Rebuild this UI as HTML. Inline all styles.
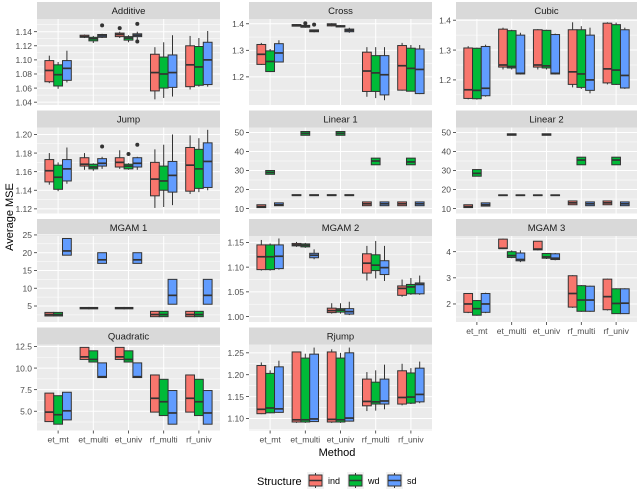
<!DOCTYPE html>
<html><head><meta charset="utf-8"><style>
html,body{margin:0;padding:0;background:#fff;}
svg{display:block;font-family:"Liberation Sans",sans-serif;}
</style></head><body>
<svg id="chart" width="640" height="490" viewBox="0 0 640 490"></svg>
<script>
const methods = ["et_mt","et_multi","et_univ","rf_multi","rf_univ"];
const structures = ["ind","wd","sd"];
const colors = ["#F8766D","#00BA38","#619CFF"];
const panelTitles = ["Additive","Cross","Cubic","Jump","Linear 1","Linear 2","MGAM 1","MGAM 2","MGAM 3","Quadratic","Rjump"];
// each row: [lo, q1, median, q3, hi], order: method x structure(ind, wd, sd)
const additiveStats = [
[1.067,1.069,1.085,1.099,1.106],[1.059,1.063,1.079,1.093,1.097],[1.068,1.071,1.088,1.099,1.113],
[1.131,1.132,1.133,1.135,1.136],[1.124,1.127,1.130,1.132,1.134],[1.131,1.132,1.134,1.136,1.137],
[1.131,1.133,1.136,1.138,1.140],[1.125,1.128,1.131,1.133,1.135],[1.128,1.133,1.135,1.137,1.140],
[1.044,1.056,1.082,1.108,1.118],[1.046,1.060,1.080,1.104,1.125],[1.048,1.061,1.082,1.107,1.135],
[1.058,1.062,1.093,1.120,1.134],[1.062,1.064,1.090,1.119,1.131],[1.062,1.065,1.100,1.125,1.141]];
const additiveOutliers = [[1,2,1.149],[2,0,1.145],[2,2,1.151],[2,2,1.126]];
const crossStats = [
[1.245,1.247,1.285,1.322,1.328],[1.218,1.220,1.258,1.298,1.305],[1.255,1.256,1.290,1.325,1.338],
[1.390,1.391,1.395,1.397,1.398],[1.385,1.387,1.391,1.394,1.395],[1.368,1.370,1.374,1.377,1.378],
[1.390,1.392,1.397,1.400,1.402],[1.386,1.388,1.391,1.393,1.395],[1.366,1.370,1.375,1.380,1.385],
[1.125,1.145,1.222,1.293,1.312],[1.120,1.145,1.215,1.280,1.312],[1.112,1.132,1.208,1.280,1.312],
[1.148,1.150,1.242,1.318,1.328],[1.145,1.146,1.232,1.308,1.320],[1.135,1.137,1.228,1.305,1.320]];
const crossOutliers = [[1,1,1.402],[1,2,1.397]];
const cubicStats = [
[1.135,1.138,1.167,1.307,1.313],[1.134,1.137,1.165,1.306,1.308],[1.144,1.147,1.172,1.312,1.318],
[1.235,1.243,1.250,1.370,1.375],[1.235,1.240,1.245,1.365,1.368],[1.218,1.220,1.222,1.350,1.358],
[1.235,1.243,1.250,1.368,1.370],[1.235,1.240,1.247,1.366,1.368],[1.218,1.220,1.222,1.352,1.355],
[1.175,1.185,1.227,1.368,1.393],[1.170,1.175,1.220,1.368,1.380],[1.155,1.165,1.200,1.350,1.375],
[1.185,1.190,1.237,1.390,1.393],[1.183,1.185,1.233,1.385,1.392],[1.170,1.173,1.215,1.368,1.375]];
const jumpStats = [
[1.146,1.149,1.161,1.173,1.180],[1.139,1.141,1.154,1.167,1.170],[1.147,1.150,1.163,1.173,1.186],
[1.162,1.166,1.168,1.175,1.180],[1.161,1.163,1.165,1.168,1.169],[1.163,1.166,1.169,1.174,1.176],
[1.163,1.165,1.170,1.175,1.183],[1.162,1.163,1.166,1.168,1.169],[1.162,1.165,1.169,1.175,1.176],
[1.121,1.134,1.152,1.170,1.184],[1.122,1.140,1.150,1.166,1.189],[1.124,1.138,1.156,1.171,1.200],
[1.136,1.139,1.167,1.186,1.199],[1.138,1.142,1.163,1.184,1.196],[1.140,1.143,1.171,1.191,1.205]];
const jumpOutliers = [[1,2,1.187],[2,1,1.179],[2,2,1.189]];
const linear1Stats = [
[10.5,10.5,11,12,12],[28,28,29,30,30],[11.5,11.5,12,13,13],
[16.8,16.8,17,17.3,17.3],[48.5,48.5,49.5,50.5,50.5],[16.8,16.8,17,17.3,17.3],
[16.8,16.8,17,17.3,17.3],[48.5,48.5,49.5,50.5,50.5],[16.8,16.8,17,17.3,17.3],
[11.5,11.5,12.5,13.5,13.5],[33,33,35,36.5,36.5],[11.5,11.5,12.5,13.5,13.5],
[11.5,11.5,12.5,13.5,13.5],[33,33,34.5,36.5,36.5],[11.5,11.5,12.5,13.5,13.5]];
const linear2Stats = [
[10.5,10.5,11,12,12],[27,27,28.5,30.5,30.5],[11.3,11.3,12,13,13],
[16.8,16.8,17,17.2,17.2],[48.5,48.5,49,49.3,49.3],[16.8,16.8,17,17.2,17.2],
[16.8,16.8,17,17.2,17.2],[48.5,48.5,49,49.3,49.3],[16.8,16.8,17,17.2,17.2],
[12,12,13,14,14],[33,33,35.5,37,37],[11.5,11.5,12.5,13.5,13.5],
[12,12,13,14,14],[33,33,35.5,37,37],[11.5,11.5,12.5,13.5,13.5]];
const mgam1Stats = [
[2.2,2.2,2.6,3.2,3.2],[2.2,2.2,2.6,3.2,3.2],[19.3,19.3,20.5,24,24],
[4.2,4.2,4.4,4.6,4.6],[4.2,4.2,4.4,4.6,4.6],[17,17,18,20,20],
[4.2,4.2,4.4,4.6,4.6],[4.2,4.2,4.4,4.6,4.6],[17,17,18,20,20],
[2,2,2.6,3.5,3.5],[2,2,2.6,3.5,3.5],[5.5,5.5,8,12.5,12.5],
[2,2,2.6,3.5,3.5],[2,2,2.6,3.5,3.5],[5.5,5.5,8,12.5,12.5]];
const mgam2Stats = [
[1.093,1.095,1.121,1.145,1.155],[1.093,1.095,1.121,1.145,1.148],[1.095,1.097,1.122,1.145,1.158],
[1.141,1.143,1.145,1.148,1.151],[1.139,1.141,1.144,1.147,1.149],[1.116,1.119,1.124,1.128,1.136],
[1.006,1.008,1.012,1.017,1.027],[1.006,1.009,1.013,1.016,1.027],[1.003,1.005,1.010,1.016,1.030],
[1.073,1.088,1.108,1.127,1.143],[1.077,1.093,1.104,1.125,1.153],[1.072,1.085,1.099,1.113,1.143],
[1.040,1.043,1.057,1.062,1.075],[1.044,1.046,1.060,1.065,1.078],[1.044,1.046,1.065,1.068,1.083]];
const mgam3Stats = [
[1.65,1.68,2.0,2.4,2.4],[1.55,1.57,1.82,2.13,2.15],[1.65,1.68,2.0,2.4,2.43],
[4.1,4.12,4.13,4.48,4.5],[3.75,3.78,3.85,4.0,4.05],[3.6,3.65,3.7,3.95,4.05],
[4.05,4.07,4.1,4.4,4.4],[3.72,3.75,3.8,3.93,3.95],[3.67,3.7,3.75,3.92,3.95],
[1.85,1.88,2.4,3.08,3.1],[1.7,1.72,2.15,2.7,2.72],[1.7,1.72,2.15,2.68,2.7],
[1.75,1.78,2.28,2.95,2.97],[1.62,1.63,2.02,2.58,2.6],[1.62,1.63,2.03,2.58,2.6]];
const quadraticStats = [
[3.8,3.8,4.9,7.1,7.1],[3.5,3.5,4.6,6.8,6.8],[4.0,4.0,5.05,7.2,7.2],
[11.0,11.0,11.3,12.4,12.4],[10.7,10.7,11.0,12.0,12.0],[8.9,8.9,9.0,10.6,10.6],
[11.0,11.0,11.3,12.4,12.4],[10.7,10.7,11.0,12.0,12.0],[8.9,8.9,9.0,10.6,10.6],
[4.9,4.9,6.5,9.2,9.2],[4.5,4.5,6.1,8.7,8.7],[3.5,3.5,4.8,7.4,7.4],
[4.9,4.9,6.5,9.2,9.2],[4.5,4.5,6.1,8.7,8.7],[3.5,3.5,4.8,7.4,7.4]];
const rjumpStats = [
[1.110,1.111,1.121,1.221,1.228],[1.112,1.113,1.124,1.203,1.210],[1.113,1.114,1.122,1.218,1.232],
[1.090,1.092,1.097,1.252,1.253],[1.090,1.092,1.097,1.238,1.248],[1.092,1.093,1.099,1.247,1.262],
[1.090,1.092,1.098,1.252,1.258],[1.090,1.092,1.097,1.238,1.250],[1.093,1.094,1.101,1.250,1.262],
[1.117,1.129,1.139,1.190,1.206],[1.118,1.133,1.138,1.183,1.210],[1.121,1.133,1.140,1.190,1.223],
[1.130,1.133,1.148,1.209,1.225],[1.133,1.135,1.149,1.204,1.215],[1.135,1.138,1.155,1.215,1.230]];
const additiveTicks = [1.04,1.06,1.08,1.10,1.12,1.14];
const crossTicks = [1.2,1.3,1.4];
const cubicTicks = [1.2,1.3,1.4];
const jumpTicks = [1.12,1.14,1.16,1.18,1.20];
const linearTicks = [10,20,30,40,50];
const mgam1Ticks = [5,10,15,20,25];
const mgam2Ticks = [1.00,1.05,1.10,1.15];
const mgam3Ticks = [2,3,4];
const quadraticTicks = [5.0,7.5,10.0,12.5];
const rjumpTicks = [1.10,1.15,1.20,1.25];

const NS="http://www.w3.org/2000/svg";
const svg=document.getElementById('chart');
function mk(tag,attrs,parent){const e=document.createElementNS(NS,tag);for(const k in attrs)e.setAttribute(k,attrs[k]);(parent||svg).appendChild(e);return e;}

const colX=[[37,220],[249,432],[456,637]];
const rowTop=[2,110.5,219,327.5];
const stripH=17, panelH=86;
const panels=[
 {stats:additiveStats,out:additiveOutliers,ticks:additiveTicks,dom:[1.036,1.158],dec:2},
 {stats:crossStats,out:crossOutliers,ticks:crossTicks,dom:[1.094,1.418],dec:1},
 {stats:cubicStats,out:[],ticks:cubicTicks,dom:[1.116,1.404],dec:1},
 {stats:jumpStats,out:jumpOutliers,ticks:jumpTicks,dom:[1.115,1.2075],dec:2},
 {stats:linear1Stats,out:[],ticks:linearTicks,dom:[7.4,52.6],dec:0},
 {stats:linear2Stats,out:[],ticks:linearTicks,dom:[7.4,52.6],dec:0},
 {stats:mgam1Stats,out:[],ticks:mgam1Ticks,dom:[0.5,24.7],dec:0},
 {stats:mgam2Stats,out:[],ticks:mgam2Ticks,dom:[0.989,1.163],dec:2},
 {stats:mgam3Stats,out:[],ticks:mgam3Ticks,dom:[1.31,4.6],dec:0},
 {stats:quadraticStats,out:[],ticks:quadraticTicks,dom:[2.77,12.73],dec:1},
 {stats:rjumpStats,out:[],ticks:rjumpTicks,dom:[1.0726,1.269],dec:2}
];
const bottomPanels=[9,10,8];

panels.forEach((p,i)=>{
 const c=i%3, r=Math.floor(i/3);
 const x0=colX[c][0], x1=colX[c][1];
 const sTop=rowTop[r], pTop=sTop+stripH, pBot=pTop+panelH;
 const g=mk('g',{});
 
 
 const strip=mk('rect',{x:x0,y:sTop,width:x1-x0,height:stripH,fill:'#D9D9D9'},g);
 
 
 const st=mk('text',{x:(x0+x1)/2,y:sTop+12,'text-anchor':'middle','font-size':'9.5',fill:'#1A1A1A'},g);
 st.textContent=panelTitles[i];
 
 
 mk('rect',{x:x0,y:pTop,width:x1-x0,height:panelH,fill:'#EBEBEB'},g);
 const ys=v=>pBot-(v-p.dom[0])/(p.dom[1]-p.dom[0])*panelH;
 const unit=(x1-x0)/5.2;
 const xs=k=>x0+(k+1-0.4)*unit;
 // minor grid
 for(let t=0;t<p.ticks.length-1;t++){const mv=(p.ticks[t]+p.ticks[t+1])/2;mk('line',{x1:x0,x2:x1,y1:ys(mv),y2:ys(mv),stroke:'#fff','stroke-width':0.5},g);}
 {const st0=p.ticks[1]-p.ticks[0];[p.ticks[0]-st0/2,p.ticks[p.ticks.length-1]+st0/2].forEach(mv=>{const y=ys(mv);if(y>pTop&&y<pBot)mk('line',{x1:x0,x2:x1,y1:y,y2:y,stroke:'#fff','stroke-width':0.5},g);});}
 p.ticks.forEach(t=>{
  const y=ys(t);
  mk('line',{x1:x0,x2:x1,y1:y,y2:y,stroke:'#fff','stroke-width':1},g);
  mk('line',{x1:x0-3,x2:x0,y1:y,y2:y,stroke:'#333','stroke-width':0.8},g);
  const tl=mk('text',{x:x0-5,y:y+3.2,'text-anchor':'end','font-size':'8.5',fill:'#4D4D4D'},g);
  tl.textContent=t.toFixed(p.dec);
  
  
 });
 methods.forEach((m,k)=>{mk('line',{x1:xs(k),x2:xs(k),y1:pTop,y2:pBot,stroke:'#fff','stroke-width':1},g);});
 const bw=unit*0.25;
 p.stats.forEach((s,j)=>{
  const k=Math.floor(j/3), si=j%3;
  const cx=xs(k)+(si-1)*bw;
  const bg=mk('g',{},g);
  
  
  mk('line',{x1:cx,x2:cx,y1:ys(s[4]),y2:ys(s[3]),stroke:'#333','stroke-width':1},bg);
  mk('line',{x1:cx,x2:cx,y1:ys(s[1]),y2:ys(s[0]),stroke:'#333','stroke-width':1},bg);
  const top=ys(s[3]),bot=ys(s[1]);
  mk('rect',{x:cx-bw/2,y:top,width:bw,height:Math.max(bot-top,0.5),fill:colors[si],stroke:'#333','stroke-width':1},bg);
  mk('line',{x1:cx-bw/2,x2:cx+bw/2,y1:ys(s[2]),y2:ys(s[2]),stroke:'#333','stroke-width':1.7},bg);
 });
 p.out.forEach(o=>{
  const cx=xs(o[0])+(o[1]-1)*bw;
  const pt=mk('circle',{cx:cx,cy:ys(o[2]),r:2,fill:'#333'},g);
  
  
 });
 if(bottomPanels.includes(i)){
  methods.forEach((m,k)=>{
   mk('line',{x1:xs(k),x2:xs(k),y1:pBot,y2:pBot+3,stroke:'#333','stroke-width':0.8},g);
   const xl=mk('text',{x:xs(k),y:pBot+12,'text-anchor':'middle','font-size':'8.5',fill:'#4D4D4D'},g);
   xl.textContent=m;
   
   
  });
 }
});

const yt=mk('text',{x:0,y:0,transform:'translate(13,217) rotate(-90)','text-anchor':'middle','font-size':'11',fill:'#000'});
yt.textContent='Average MSE';


const xt=mk('text',{x:337,y:456,'text-anchor':'middle','font-size':'11',fill:'#000'});
xt.textContent='Method';



const lg=mk('g',{});


const lt=mk('text',{x:257,y:485,'font-size':'11',fill:'#000'},lg);
lt.textContent='Structure';
const keyX=[308,348,387];
structures.forEach((s,si)=>{
 const e=mk('g',{},lg);
 
 
 mk('rect',{x:keyX[si]-1,y:472,width:17,height:17,fill:'#F2F2F2'},e);
 mk('line',{x1:keyX[si]+7.5,x2:keyX[si]+7.5,y1:473,y2:488,stroke:'#333','stroke-width':1},e);
 mk('rect',{x:keyX[si]+1,y:475,width:13,height:11,fill:colors[si],stroke:'#333','stroke-width':1},e);
 mk('line',{x1:keyX[si]+1,x2:keyX[si]+14,y1:480.5,y2:480.5,stroke:'#333','stroke-width':1.5},e);
 const t=mk('text',{x:keyX[si]+20,y:484,'font-size':'9',fill:'#000'},e);
 t.textContent=s;
});
</script>
</body></html>
